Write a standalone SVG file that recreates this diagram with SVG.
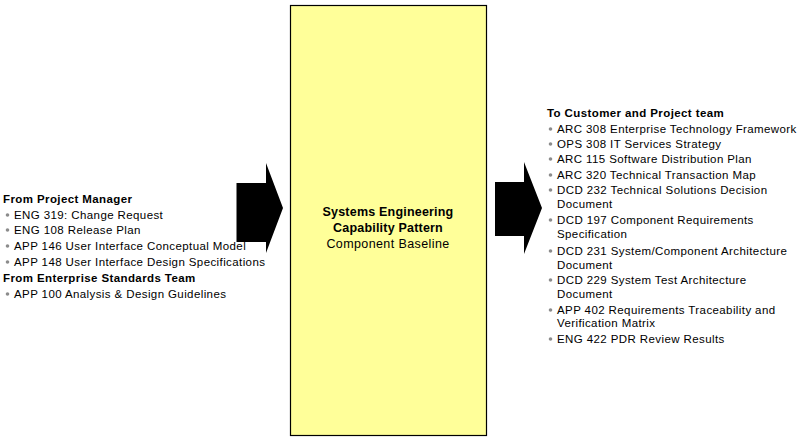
<svg xmlns="http://www.w3.org/2000/svg" width="803" height="441" viewBox="0 0 803 441">
<style>
text{font-family:"Liberation Sans",Arial,sans-serif;font-size:11.5px;letter-spacing:0.4px;fill:#000}
.h{font-weight:bold}
.b{fill:#8c8c8c}
.c{text-anchor:middle;font-size:12.5px}
.c.h{letter-spacing:0.2px}
</style>
<rect width="803" height="441" fill="#fff"/>
<g id="connectors">
<polygon id="arrow-in" points="236.5,183 266,183 266,163 283,208 266,253 266,242 236.5,242" fill="#000"/>
<polygon id="arrow-out" points="495,182 524,182 524,162 542,208 524,254 524,236 495,236" fill="#000"/>
</g>
<g id="center">
<rect x="290.5" y="5.5" width="196" height="430" fill="#ffff99" stroke="#000" stroke-width="1.2"/>
<text class="h c" x="388" y="216">Systems Engineering</text>
<text class="h c" x="388" y="232">Capability Pattern</text>
<text class="c" x="388" y="248">Component Baseline</text>
</g>
<g id="inputs">
<text class="h" x="3" y="203">From Project Manager</text>
<circle class="b" cx="7.5" cy="215" r="1.8"/><text x="14" y="219">ENG 319: Change Request</text>
<circle class="b" cx="7.5" cy="230" r="1.8"/><text x="14" y="234">ENG 108 Release Plan</text>
<circle class="b" cx="7.5" cy="246" r="1.8"/><text x="14" y="250">APP 146 User Interface Conceptual Model</text>
<circle class="b" cx="7.5" cy="262" r="1.8"/><text x="14" y="266">APP 148 User Interface Design Specifications</text>
<text class="h" x="3" y="282">From Enterprise Standards Team</text>
<circle class="b" cx="7.5" cy="294" r="1.8"/><text x="14" y="298">APP 100 Analysis &amp; Design Guidelines</text>
</g>
<g id="outputs">
<text class="h" x="547" y="117">To Customer and Project team</text>
<circle class="b" cx="550.5" cy="129" r="1.8"/><text x="557" y="133">ARC 308 Enterprise Technology Framework</text>
<circle class="b" cx="550.5" cy="144" r="1.8"/><text x="557" y="148">OPS 308 IT Services Strategy</text>
<circle class="b" cx="550.5" cy="159" r="1.8"/><text x="557" y="163">ARC 115 Software Distribution Plan</text>
<circle class="b" cx="550.5" cy="175" r="1.8"/><text x="557" y="179">ARC 320 Technical Transaction Map</text>
<circle class="b" cx="550.5" cy="190" r="1.8"/><text x="557" y="194">DCD 232 Technical Solutions Decision</text>
<text x="557" y="208">Document</text>
<circle class="b" cx="550.5" cy="220" r="1.8"/><text x="557" y="224">DCD 197 Component Requirements</text>
<text x="557" y="238">Specification</text>
<circle class="b" cx="550.5" cy="251" r="1.8"/><text x="557" y="255">DCD 231 System/Component Architecture</text>
<text x="557" y="269">Document</text>
<circle class="b" cx="550.5" cy="280" r="1.8"/><text x="557" y="284">DCD 229 System Test Architecture</text>
<text x="557" y="298">Document</text>
<circle class="b" cx="550.5" cy="310" r="1.8"/><text x="557" y="314">APP 402 Requirements Traceability and</text>
<text x="557" y="327">Verification Matrix</text>
<circle class="b" cx="550.5" cy="339" r="1.8"/><text x="557" y="343">ENG 422 PDR Review Results</text>
</g>
</svg>
